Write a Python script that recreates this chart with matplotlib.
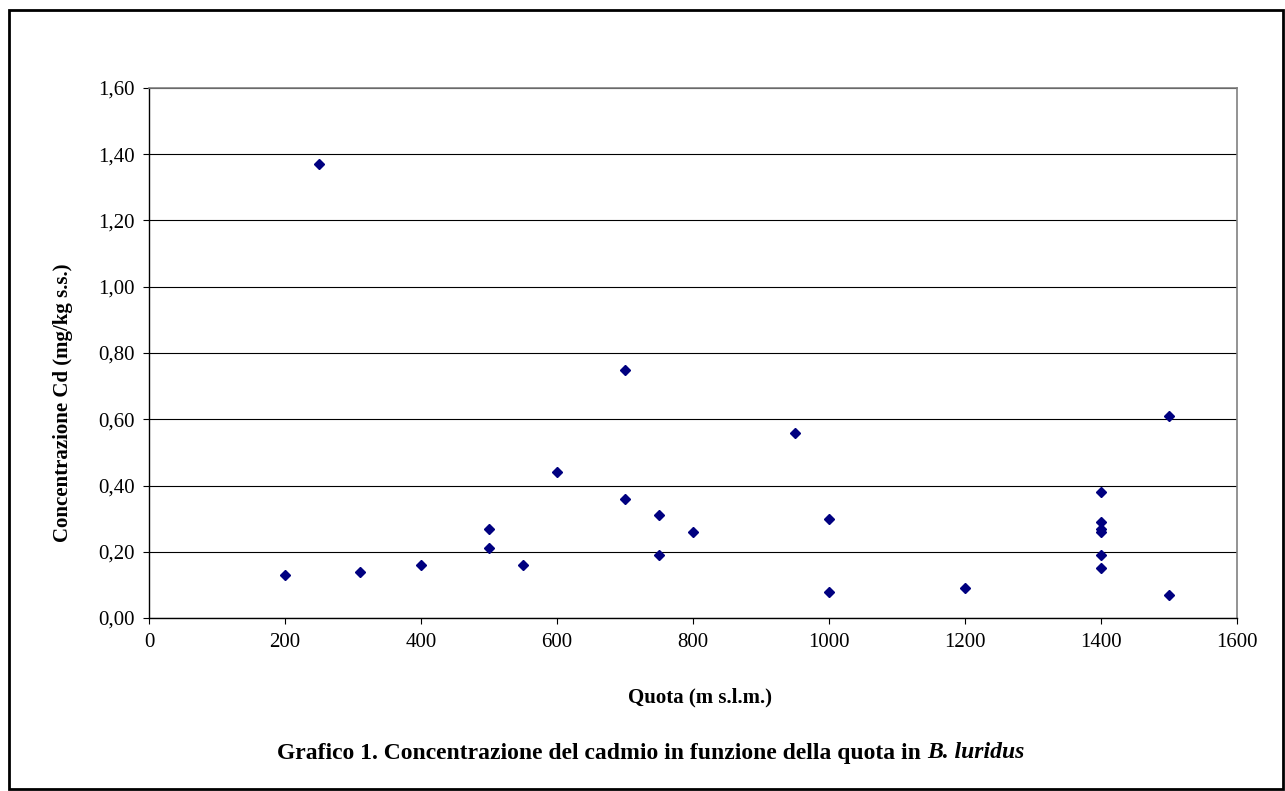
import matplotlib
matplotlib.use("Agg")
import matplotlib.pyplot as plt
from matplotlib.ticker import FuncFormatter, MultipleLocator
from matplotlib.patches import Rectangle

# quota (m s.l.m.) and Cd concentration (mg/kg s.s.)
quota = [200, 250, 310, 400, 500, 500, 550, 600, 700, 700, 750, 750, 800,
         950, 1000, 1000, 1200, 1400, 1400, 1400, 1400, 1400, 1400, 1500, 1500]
cadmio = [0.13, 1.37, 0.14, 0.16, 0.27, 0.21, 0.16, 0.44, 0.75, 0.36, 0.31, 0.19, 0.26,
          0.56, 0.30, 0.08, 0.09, 0.38, 0.29, 0.27, 0.26, 0.19, 0.15, 0.61, 0.07]

W, H = 1285, 791
plt.rcParams['font.family'] = ['Liberation Serif', 'DejaVu Serif']

fig = plt.figure(figsize=(W / 100, H / 100), dpi=100)
ax = fig.add_axes([149 / W, 1 - 618 / H, (1237 - 149) / W, (618 - 88) / H])

ax.plot(quota, cadmio, linestyle='none', marker='D', markersize=5.2,
        color='#000080', markeredgecolor='#000080', zorder=3)

ax.set_xlim(0, 1600)
ax.set_ylim(0, 1.6)
ax.xaxis.set_major_locator(MultipleLocator(200))
ax.yaxis.set_major_locator(MultipleLocator(0.2))
ax.yaxis.set_major_formatter(FuncFormatter(lambda v, p: f"{v:.2f}".replace('.', ',')))
ax.tick_params(direction='out', length=4.5, width=0.8, labelsize=15, pad=6, colors='black')

ax.grid(axis='y', color='black', linewidth=0.8)
ax.set_axisbelow(True)
for side in ['top', 'right']:
    ax.spines[side].set_color('#808080')
    ax.spines[side].set_linewidth(1.2)
for side in ['left', 'bottom']:
    ax.spines[side].set_color('black')
    ax.spines[side].set_linewidth(1.0)

fig.text(700 / W, 1 - 697 / H, 'Quota (m s.l.m.)', ha='center', va='center',
         fontsize=15, fontweight='bold')
fig.text(63 / W, 1 - 403 / H, 'Concentrazione Cd (mg/kg s.s.)', ha='center', va='center',
         rotation=90, fontsize=15, fontweight='bold')

# title: upright part + bold italic species name, centred together
renderer = fig.canvas.get_renderer()
t1 = fig.text(0, 1 - 753 / H, 'Grafico 1. Concentrazione del cadmio in funzione della quota in ',
              ha='left', va='center', fontsize=17, fontweight='bold')
t2 = fig.text(0, 1 - 753 / H, 'B. luridus', ha='left', va='center', fontsize=17,
              fontweight='bold', fontstyle='italic')
w1 = t1.get_window_extent(renderer).width
w2 = t2.get_window_extent(renderer).width
x0 = 651 - (w1 + w2) / 2
t1.set_x(x0 / W)
t2.set_x((x0 + w1) / W)

# outer frame
fig.patches.append(Rectangle((9 / W, 2 / H), (1283 - 9) / W, (781 - 2) / H,
                             transform=fig.transFigure, fill=False,
                             edgecolor='black', linewidth=2))

fig.savefig('out.png', dpi=100)
